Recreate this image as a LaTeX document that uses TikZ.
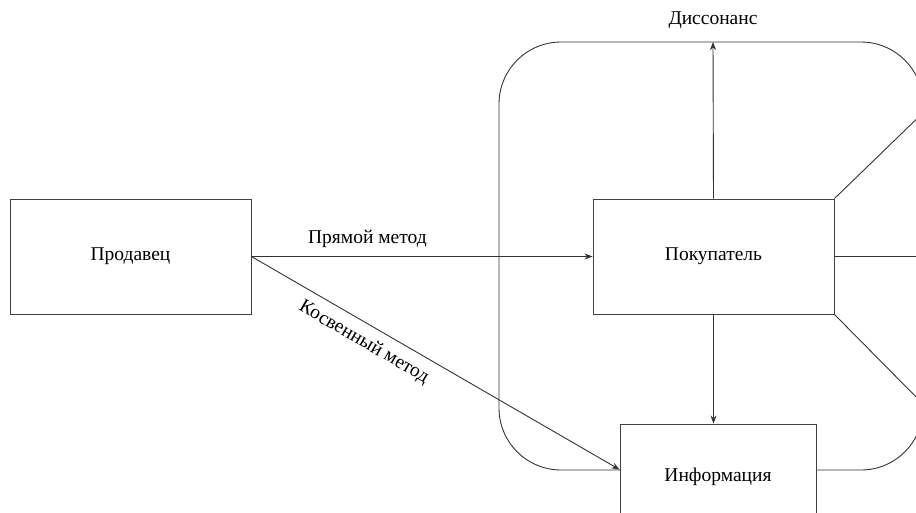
\documentclass[tikz,border=0pt]{standalone}
\usepackage{fontspec}
\setmainfont{Liberation Serif}
\usetikzlibrary{arrows.meta}
\begin{document}
\begin{tikzpicture}[x=1pt,y=-1pt,
  box/.style={draw=black!75, line width=0.9pt, fill=white, inner sep=0pt, font=\fontsize{19.5}{23}\selectfont},
  conn/.style={draw=black!80, line width=0.9pt},
  arr/.style={conn, -{Stealth[length=8pt,width=6pt]}},
  lbl/.style={font=\fontsize{19.5}{23}\selectfont, inner sep=0pt}]
\useasboundingbox (0,0) rectangle (916,512);
\clip (0,0) rectangle (916,512);
% frame
\draw[conn, rounded corners=62pt] (499,42) rectangle (923,470);
% nodes
\node[box, minimum width=241pt, minimum height=115pt] (seller) at (130.5,256.5) {Продавец};
\node[box, minimum width=241pt, minimum height=115pt] (buyer) at (713.5,256.5) {Покупатель};
\node[box, minimum width=196pt, minimum height=106pt] (info) at (718,477) {Информация};
\node[lbl] (dis) at (713,20) {Диссонанс};
\coordinate (top) at (713,42);
\coordinate (r1) at (930,106);
\coordinate (r2) at (930,256.5);
\coordinate (r3) at (930,411);
% connectors
\draw[arr] (seller.east) -- node[lbl, above=8pt, pos=0.34] {Прямой метод} (buyer.west);
\draw[arr] (seller.east) -- node[lbl, sloped, below=9pt, pos=0.33] {Косвенный метод} ([yshift=-46pt]info.north west);
\draw[arr] (buyer.north) -- (top);
\draw[arr] (buyer.south) -- (buyer.south |- info.north);
\draw[conn] (buyer.north east) -- (r1);
\draw[conn] (buyer.east) -- (r2);
\draw[conn] (buyer.south east) -- (r3);
\end{tikzpicture}
\end{document}
